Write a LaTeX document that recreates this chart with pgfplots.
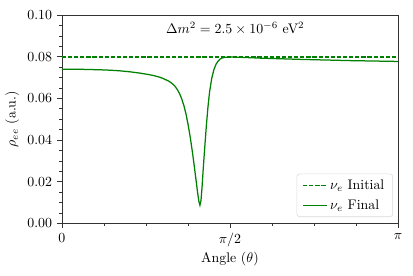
\documentclass[border=0pt]{standalone}
\usepackage{pgfplots}
\pgfplotsset{compat=1.18}
\definecolor{mplgreen}{HTML}{008000}
\definecolor{spine}{HTML}{333333}
\begin{document}
\begin{tikzpicture}
\useasboundingbox (-44.6pt,-37.4pt) rectangle (252.8pt,160.8pt);
\begin{axis}[
  scale only axis,
  width=242pt,height=150pt,
  font=\fontsize{10}{11}\selectfont,
  xmin=0,xmax=pi,ymin=0,ymax=0.10,
  xtick={0,1.5707963,3.1415927},
  xticklabels={$0$,$\pi/2$,$\pi$},
  minor xtick={0.3926991,0.7853982,1.1780972,1.9634954,2.3561945,2.7488936},
  ytick={0,0.02,0.04,0.06,0.08,0.10},
  yticklabel style={/pgf/number format/.cd,fixed,fixed zerofill,precision=2},
  minor y tick num=3,
  tick align=outside,
  xtick pos=bottom, ytick pos=left,
  major tick length=3.6pt, minor tick length=2pt,
  axis line style={spine},
  every tick/.style={spine},
  xlabel={Angle ($\theta$)},
  ylabel={$\rho_{ee}$ (a.u.)},
  xlabel style={yshift=3pt},
  ylabel style={yshift=-1pt},
  legend cell align=left,
  legend style={draw=black!15,rounded corners=2pt,font=\fontsize{10}{11}\selectfont,
    inner xsep=4pt,inner ysep=2pt,row sep=2pt,at={(0.985,0.03)},anchor=south east},
]
\addlegendimage{legend image code/.code={\draw[mplgreen,line width=0.9pt,dash pattern=on 3pt off 1.4pt] (0cm,0cm) -- (0.6cm,0cm);}}
\addlegendentry{$\nu_e$ Initial}
\addlegendimage{legend image code/.code={\draw[mplgreen,line width=0.9pt] (0cm,0cm) -- (0.6cm,0cm);}}
\addlegendentry{$\nu_e$ Final}
\addplot[mplgreen,line width=0.9pt,dash pattern=on 3pt off 1.4pt,forget plot] coordinates {(0,0.0798) (3.1415927,0.0798)};
\addplot[mplgreen,line width=0.9pt,forget plot] coordinates {
(0.000,0.0740) (0.200,0.0739) (0.355,0.0737) (0.450,0.0735) (0.542,0.0732)
(0.640,0.0727) (0.729,0.0721) (0.800,0.0715) (0.860,0.0709) (0.916,0.0701)
(0.960,0.0692) (1.000,0.0682) (1.030,0.0671) (1.055,0.0659) (1.080,0.0641)
(1.100,0.0622) (1.120,0.0597) (1.140,0.0565) (1.160,0.0524) (1.180,0.0472)
(1.200,0.0411) (1.220,0.0341) (1.240,0.0263) (1.255,0.0202) (1.268,0.0148)
(1.280,0.0106) (1.290,0.0087) (1.300,0.0110) (1.310,0.0175) (1.320,0.0255)
(1.335,0.0365) (1.350,0.0468) (1.365,0.0558) (1.380,0.0630) (1.400,0.0695)
(1.420,0.0737) (1.440,0.0763) (1.460,0.0779) (1.480,0.0789) (1.500,0.0794)
(1.530,0.0797) (1.570,0.0798) (1.618,0.0798) (1.851,0.0793) (2.225,0.0787)
(2.693,0.0781) (3.1416,0.0777)
};
\node at (axis cs:1.62,0.0935) {$\Delta m^2 = 2.5\times10^{-6}$ eV$^2$};
\end{axis}
\end{tikzpicture}
\end{document}
